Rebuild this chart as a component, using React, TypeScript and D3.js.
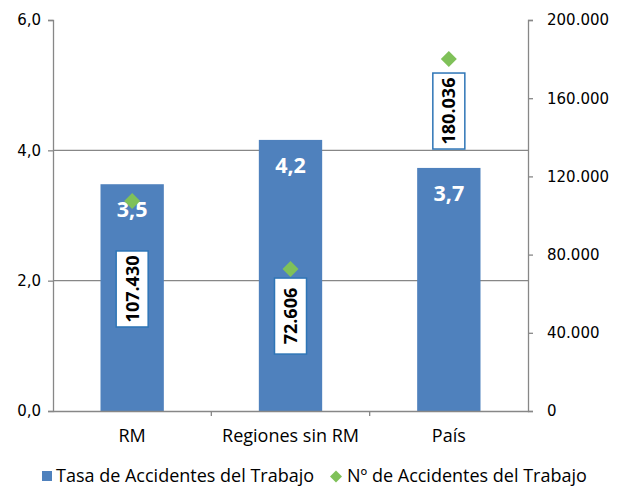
import React, { useEffect, useRef } from 'react';
import * as d3 from 'd3';

const categories = ['RM', 'Regiones sin RM', 'País'];
const tasa = [3.48, 4.16, 3.73];
const accidentes = [107430, 72606, 180036];
// how far below each diamond its boxed label sits
const labelOffsets = [88, 47, 52];
const leftTicks = [0, 2, 4, 6];
const rightTicks = [0, 40000, 80000, 120000, 160000, 200000];

const fmtLeft = (v: number) => v.toFixed(1).replace('.', ',');
const fmtRight = (v: number) => d3.format(',')(v).replace(/,/g, '.');

const App = () => {
  const ref = useRef<SVGSVGElement>(null);

  useEffect(() => {
    const svg = d3.select(ref.current);
    svg.selectAll('*').remove();

    const left = 53;
    const right = 528;
    const top = 20;
    const bottom = 411;
    const font = 'DejaVu Sans, sans-serif';
    const textFont = 'Open Sans, sans-serif';

    const x = d3.scaleBand().domain(categories).range([left, right]).paddingInner(0.6).paddingOuter(0.3);
    const yL = d3.scaleLinear().domain([0, 6]).range([bottom, top]);
    const yR = d3.scaleLinear().domain([0, 200000]).range([bottom, top]);

    // gridlines
    svg.append('g').selectAll('line')
      .data([2, 4])
      .enter().append('line')
      .attr('x1', left).attr('x2', right)
      .attr('y1', d => yL(d)).attr('y2', d => yL(d))
      .attr('stroke', '#878787').attr('stroke-width', 1.3);

    // bars
    svg.append('g').selectAll('rect')
      .data(tasa)
      .enter().append('rect')
      .attr('x', (d, i) => x(categories[i])!)
      .attr('y', d => yL(d))
      .attr('width', x.bandwidth())
      .attr('height', d => bottom - yL(d))
      .attr('fill', '#4f81bd');

    // bar value labels
    svg.append('g').selectAll('text')
      .data(tasa)
      .enter().append('text')
      .attr('x', (d, i) => x(categories[i])! + x.bandwidth() / 2)
      .attr('y', d => yL(d) + 33)
      .attr('text-anchor', 'middle')
      .attr('font-family', textFont)
      .attr('font-weight', 'bold')
      .attr('font-size', 21.5)
      .attr('fill', '#fff')
      .text(d => fmtLeft(d));

    // diamonds
    const diamond = d3.symbol().type(d3.symbolSquare).size(128);
    svg.append('g').selectAll('path')
      .data(accidentes)
      .enter().append('path')
      .attr('d', diamond)
      .attr('transform', (d, i) => `translate(${x(categories[i])! + x.bandwidth() / 2},${yR(d)}) rotate(45)`)
      .attr('fill', '#7fc159');

    // boxed rotated labels
    const boxes = svg.append('g').selectAll('g')
      .data(accidentes)
      .enter().append('g')
      .attr('transform', (d, i) => `translate(${x(categories[i])! + x.bandwidth() / 2},${yR(d) + labelOffsets[i]}) rotate(-90)`);
    boxes.append('rect')
      .attr('x', -38).attr('y', -16)
      .attr('width', 76).attr('height', 32)
      .attr('fill', '#fff')
      .attr('stroke', '#2e75b6').attr('stroke-width', 1.5);
    boxes.append('text')
      .attr('text-anchor', 'middle')
      .attr('dy', '0.36em')
      .attr('font-family', textFont)
      .attr('font-weight', 'bold')
      .attr('font-size', 18)
      .attr('fill', '#000')
      .text(d => fmtRight(d));

    // left axis
    const axL = svg.append('g')
      .attr('transform', `translate(${left},0)`)
      .call(d3.axisLeft(yL).tickValues(leftTicks).tickSize(5).tickPadding(7).tickFormat(d => fmtLeft(d as number)));
    axL.select('.domain').attr('stroke', '#878787').attr('stroke-width', 1.3);
    axL.selectAll('.tick line').attr('stroke', '#878787').attr('stroke-width', 1.3);
    axL.selectAll('text').attr('font-family', font).attr('font-size', 15).attr('fill', '#000');

    // right axis
    const axR = svg.append('g')
      .attr('transform', `translate(${right},0)`)
      .call(d3.axisRight(yR).tickValues(rightTicks).tickSize(5).tickPadding(14).tickFormat(d => fmtRight(d as number)));
    axR.select('.domain').attr('stroke', '#878787').attr('stroke-width', 1.3);
    axR.selectAll('.tick line').attr('stroke', '#878787').attr('stroke-width', 1.3);
    axR.selectAll('text').attr('font-family', font).attr('font-size', 15).attr('fill', '#000');

    // bottom axis
    const axB = svg.append('g')
      .attr('transform', `translate(0,${bottom})`)
      .call(d3.axisBottom(x).tickSize(0).tickPadding(18));
    axB.select('.domain').attr('stroke', '#878787').attr('stroke-width', 1.3);
    axB.selectAll('text').attr('font-family', textFont).attr('font-size', 18).attr('fill', '#000');
    // category boundary ticks
    axB.append('g').selectAll('line')
      .data(categories.slice(1))
      .enter().append('line')
      .attr('x1', d => x(d)! - x.step() * x.paddingInner() / 2)
      .attr('x2', d => x(d)! - x.step() * x.paddingInner() / 2)
      .attr('y1', 0).attr('y2', 5)
      .attr('stroke', '#878787').attr('stroke-width', 1.3);

    // legend
    const lg = svg.append('g').attr('font-family', textFont).attr('font-size', 18);
    lg.append('rect').attr('x', 42).attr('y', 471).attr('width', 10).attr('height', 10).attr('fill', '#4f81bd');
    lg.append('text').attr('x', 56).attr('y', 481.5).text('Tasa de Accidentes del Trabajo');
    lg.append('path')
      .attr('d', d3.symbol().type(d3.symbolSquare).size(72)())
      .attr('transform', 'translate(336,476.5) rotate(45)')
      .attr('fill', '#7fc159');
    lg.append('text').attr('x', 347).attr('y', 481.5).text('Nº de Accidentes del Trabajo');
  }, []);

  return (
    <svg
      ref={ref}
      width={618}
      height={487}
      style={{ display: 'block', margin: '-8px -8px 0 -8px' }}
    />
  );
};

export default App;
